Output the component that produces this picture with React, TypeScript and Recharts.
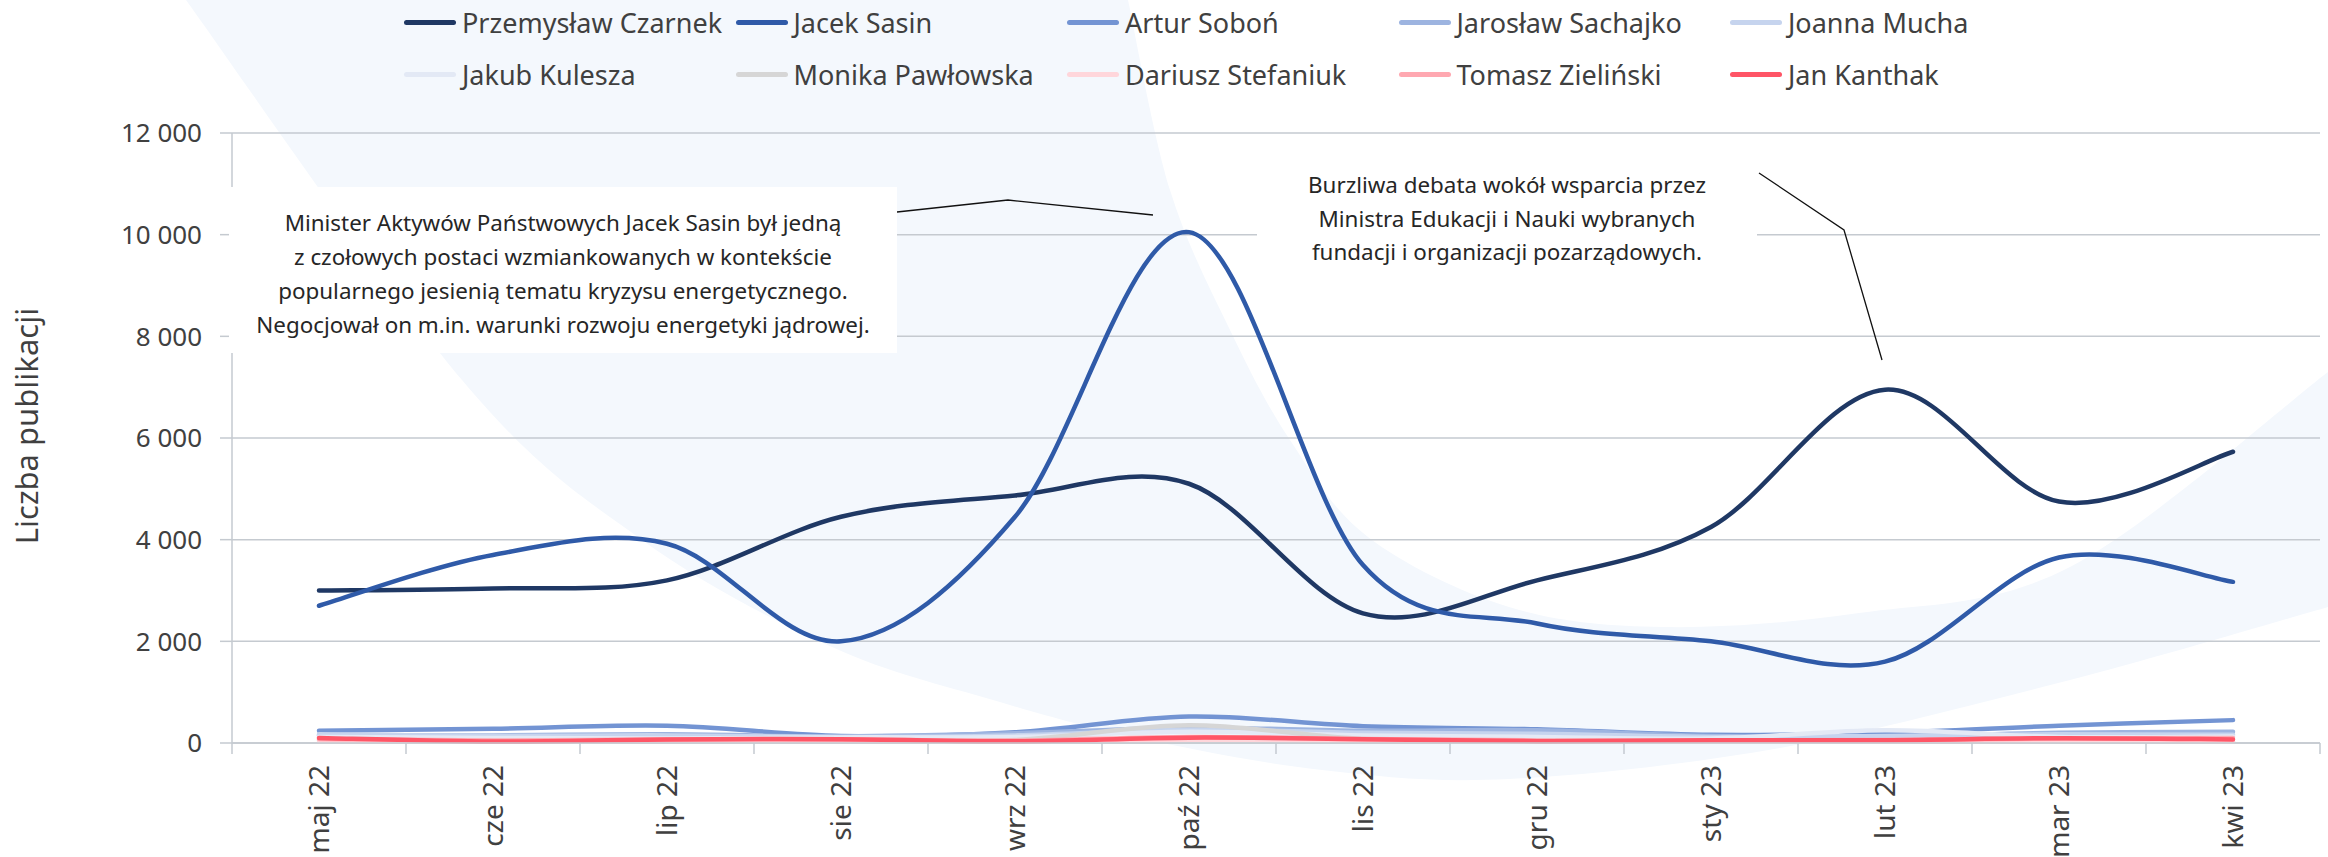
import React from 'react';
import { LineChart, Line, XAxis, YAxis, CartesianGrid } from 'recharts';

const months = ['maj 22', 'cze 22', 'lip 22', 'sie 22', 'wrz 22', 'paź 22', 'lis 22', 'gru 22', 'sty 23', 'lut 23', 'mar 23', 'kwi 23'];

const czarnek = [3000, 3040, 3200, 4450, 4870, 5100, 2550, 3200, 4250, 6950, 4750, 5730];
const sasin = [2700, 3700, 3920, 2000, 4450, 10050, 3500, 2350, 2000, 1600, 3650, 3170];
const sobon = [240, 280, 340, 140, 210, 520, 330, 270, 160, 200, 340, 450];
const sachajko = [150, 150, 170, 130, 190, 300, 240, 250, 140, 130, 200, 220];
const mucha = [170, 140, 150, 120, 150, 260, 200, 180, 120, 140, 170, 160];
const kulesza = [120, 100, 90, 110, 120, 220, 150, 120, 90, 250, 120, 130];
const pawlowska = [60, 40, 50, 60, 60, 350, 80, 50, 40, 50, 40, 30];
const stefaniuk = [40, 30, 40, 40, 30, 60, 40, 30, 30, 30, 40, 30];
const zielinski = [80, 50, 70, 70, 50, 120, 80, 50, 50, 60, 90, 100];
const kanthak = [100, 30, 70, 75, 35, 105, 75, 35, 55, 55, 95, 70];

const yTicks = [0, 2000, 4000, 6000, 8000, 10000, 12000];

const series = [
  { key: 'czarnek', name: 'Przemysław Czarnek', color: '#1f3864', values: czarnek },
  { key: 'sasin', name: 'Jacek Sasin', color: '#2f5aa8', values: sasin },
  { key: 'sobon', name: 'Artur Soboń', color: '#7394d3', values: sobon },
  { key: 'sachajko', name: 'Jarosław Sachajko', color: '#9db4e0', values: sachajko },
  { key: 'mucha', name: 'Joanna Mucha', color: '#c6d4ee', values: mucha },
  { key: 'kulesza', name: 'Jakub Kulesza', color: '#e3e9f5', values: kulesza },
  { key: 'pawlowska', name: 'Monika Pawłowska', color: '#d6d6d6', values: pawlowska },
  { key: 'stefaniuk', name: 'Dariusz Stefaniuk', color: '#ffd6db', values: stefaniuk },
  { key: 'zielinski', name: 'Tomasz Zieliński', color: '#ffa8b1', values: zielinski },
  { key: 'kanthak', name: 'Jan Kanthak', color: '#ff5566', values: kanthak },
];

const data = months.map((month, i) => {
  const row: Record<string, string | number> = { month };
  series.forEach((s) => {
    row[s.key] = s.values[i];
  });
  return row;
});

const FONT = '"Noto Sans", "Open Sans", sans-serif';
const GRID = '#c5cad0';
const TEXT = '#404040';
const PAD = 87;

// Excel-like smoothing (catmull-rom through the points)
function smoothCurve(context: any) {
  let pts: number[][] = [];
  return {
    areaStart() {},
    areaEnd() {},
    lineStart() {
      pts = [];
    },
    point(x: number, y: number) {
      pts.push([+x, +y]);
    },
    lineEnd() {
      const n = pts.length;
      if (!n) return;
      context.moveTo(pts[0][0], pts[0][1]);
      for (let i = 0; i < n - 1; i++) {
        const p0 = pts[i - 1] || pts[i];
        const p1 = pts[i];
        const p2 = pts[i + 1];
        const p3 = pts[i + 2] || p2;
        context.bezierCurveTo(
          p1[0] + (p2[0] - p0[0]) / 6,
          p1[1] + (p2[1] - p0[1]) / 6,
          p2[0] - (p3[0] - p1[0]) / 6,
          p2[1] - (p3[1] - p1[1]) / 6,
          p2[0],
          p2[1]
        );
      }
    },
  };
}

function pathThrough(points: number[][]) {
  let d = `M${points[0][0]},${points[0][1]}`;
  for (let i = 0; i < points.length - 1; i++) {
    const p0 = points[i - 1] || points[i];
    const p1 = points[i];
    const p2 = points[i + 1];
    const p3 = points[i + 2] || p2;
    d += ` C${p1[0] + (p2[0] - p0[0]) / 6},${p1[1] + (p2[1] - p0[1]) / 6} ${p2[0] - (p3[0] - p1[0]) / 6},${p2[1] - (p3[1] - p1[1]) / 6} ${p2[0]},${p2[1]}`;
  }
  return d;
}

const outerEdge = [[186, 0], [462, 380], [642, 540], [832, 647], [993, 700], [1134, 737], [1322, 770], [1509, 779], [1780, 748], [2070, 680], [2328, 607]];
const innerEdge = [[2328, 372], [2070, 567], [1859, 613], [1663, 627], [1509, 607], [1368, 537], [1290, 440], [1230, 330], [1170, 190], [1128, 0]];
const bgPath = pathThrough(outerEdge) + ' L' + pathThrough(innerEdge).slice(1) + ' Z';

const fmt = (v: number) => (v >= 1000 ? `${Math.floor(v / 1000)} ${String(v % 1000).padStart(3, '0')}` : String(v));

const XTick = (props: any) => {
  const { x, y, payload, index, width } = props;
  const w = typeof width === 'number' ? width : 2088;
  const step = (w - 2 * PAD) / (months.length - 1);
  const ty = y + 22;
  return (
    <g>
      <line x1={x - step / 2} x2={x - step / 2} y1={y} y2={y + 11} stroke={GRID} strokeWidth={1.5} />
      {index === months.length - 1 && (
        <line x1={x + step / 2} x2={x + step / 2} y1={y} y2={y + 11} stroke={GRID} strokeWidth={1.5} />
      )}
      <text
        x={x}
        y={ty}
        dy="0.36em"
        transform={`rotate(-90, ${x}, ${ty})`}
        textAnchor="end"
        fontSize={28}
        fill={TEXT}
        fontFamily={FONT}
      >
        {payload.value}
      </text>
    </g>
  );
};

const YLabel = (props: any) => {
  const vb = props.viewBox || { x: 0, y: 133, height: 610 };
  const cx = 27;
  const cy = vb.y + vb.height / 2 - 12;
  return (
    <text
      x={cx}
      y={cy}
      dy="0.35em"
      transform={`rotate(-90, ${cx}, ${cy})`}
      textAnchor="middle"
      fontSize={31}
      fill={TEXT}
      fontFamily={FONT}
    >
      Liczba publikacji
    </text>
  );
};

const leftNote = [
  'Minister Aktywów Państwowych Jacek Sasin był jedną',
  'z czołowych postaci wzmiankowanych w kontekście',
  'popularnego jesienią tematu kryzysu energetycznego.',
  'Negocjował on m.in. warunki rozwoju energetyki jądrowej.',
];
const rightNote = [
  'Burzliwa debata wokół wsparcia przez',
  'Ministra Edukacji i Nauki wybranych',
  'fundacji i organizacji pozarządowych.',
];

export default function App() {
  return (
    <div
      style={{
        position: 'absolute',
        left: 0,
        top: 0,
        width: 2328,
        height: 857,
        background: '#ffffff',
        overflow: 'hidden',
        fontFamily: FONT,
      }}
    >
      <svg width={2328} height={857} style={{ position: 'absolute', left: 0, top: 0 }}>
        <path d={bgPath} fill="#f4f8fd" />
      </svg>

      <div style={{ position: 'absolute', left: 0, top: 0 }}>
        <LineChart width={2328} height={857} data={data} margin={{ top: 133, right: 8, bottom: 0, left: 0 }}>
          <CartesianGrid horizontal vertical={false} stroke={GRID} strokeWidth={1.5} />
          <XAxis
            dataKey="month"
            height={114}
            padding={{ left: PAD, right: PAD }}
            axisLine={{ stroke: GRID, strokeWidth: 1.5 }}
            tickLine={false}
            tickSize={0}
            tickMargin={0}
            interval={0}
            tick={<XTick />}
          />
          <YAxis
            width={232}
            domain={[0, 12000]}
            ticks={yTicks}
            tickFormatter={fmt}
            axisLine={{ stroke: GRID, strokeWidth: 1.5 }}
            tickLine={{ stroke: GRID, strokeWidth: 1.5 }}
            tickSize={12}
            tickMargin={18}
            tick={{ fontSize: 26, fill: TEXT, fontFamily: FONT }}
            label={<YLabel />}
          />
          {series.map((s) => (
            <Line
              key={s.key}
              type={smoothCurve as any}
              dataKey={s.key}
              name={s.name}
              stroke={s.color}
              strokeWidth={4.5}
              strokeLinecap="round"
              dot={false}
              activeDot={false}
              isAnimationActive={false}
            />
          ))}
        </LineChart>
      </div>

      {/* annotation boxes */}
      <div
        style={{
          position: 'absolute',
          left: 229,
          top: 187,
          width: 668,
          height: 166,
          background: '#fff',
          paddingTop: 19,
          boxSizing: 'border-box',
          textAlign: 'center',
          fontSize: 22.4,
          lineHeight: '34px',
          color: '#262626',
        }}
      >
        {leftNote.map((t) => (
          <div key={t} style={{ whiteSpace: 'nowrap' }}>{t}</div>
        ))}
      </div>
      <div
        style={{
          position: 'absolute',
          left: 1257,
          top: 160,
          width: 500,
          height: 128,
          background: '#fff',
          paddingTop: 8,
          boxSizing: 'border-box',
          textAlign: 'center',
          fontSize: 22.4,
          lineHeight: '33.5px',
          color: '#262626',
        }}
      >
        {rightNote.map((t) => (
          <div key={t} style={{ whiteSpace: 'nowrap' }}>{t}</div>
        ))}
      </div>

      <svg width={2328} height={857} style={{ position: 'absolute', left: 0, top: 0, pointerEvents: 'none' }}>
        <polyline points="897,212 1008,200 1153,215" fill="none" stroke="#111" strokeWidth={1.3} />
        <polyline points="1759,173 1844,230 1882,360" fill="none" stroke="#111" strokeWidth={1.3} />
      </svg>

      {/* legend */}
      {series.map((s, i) => {
        const col = i % 5;
        const row = Math.floor(i / 5);
        return (
          <div
            key={s.key}
            style={{
              position: 'absolute',
              left: 404 + col * 331.5,
              top: 22 + row * 52 - 18,
              height: 36,
              display: 'flex',
              alignItems: 'center',
              whiteSpace: 'nowrap',
            }}
          >
            <div style={{ width: 52, height: 5, borderRadius: 2.5, background: s.color, marginRight: 6 }} />
            <span style={{ fontSize: 27, color: TEXT }}>{s.name}</span>
          </div>
        );
      })}
    </div>
  );
}
